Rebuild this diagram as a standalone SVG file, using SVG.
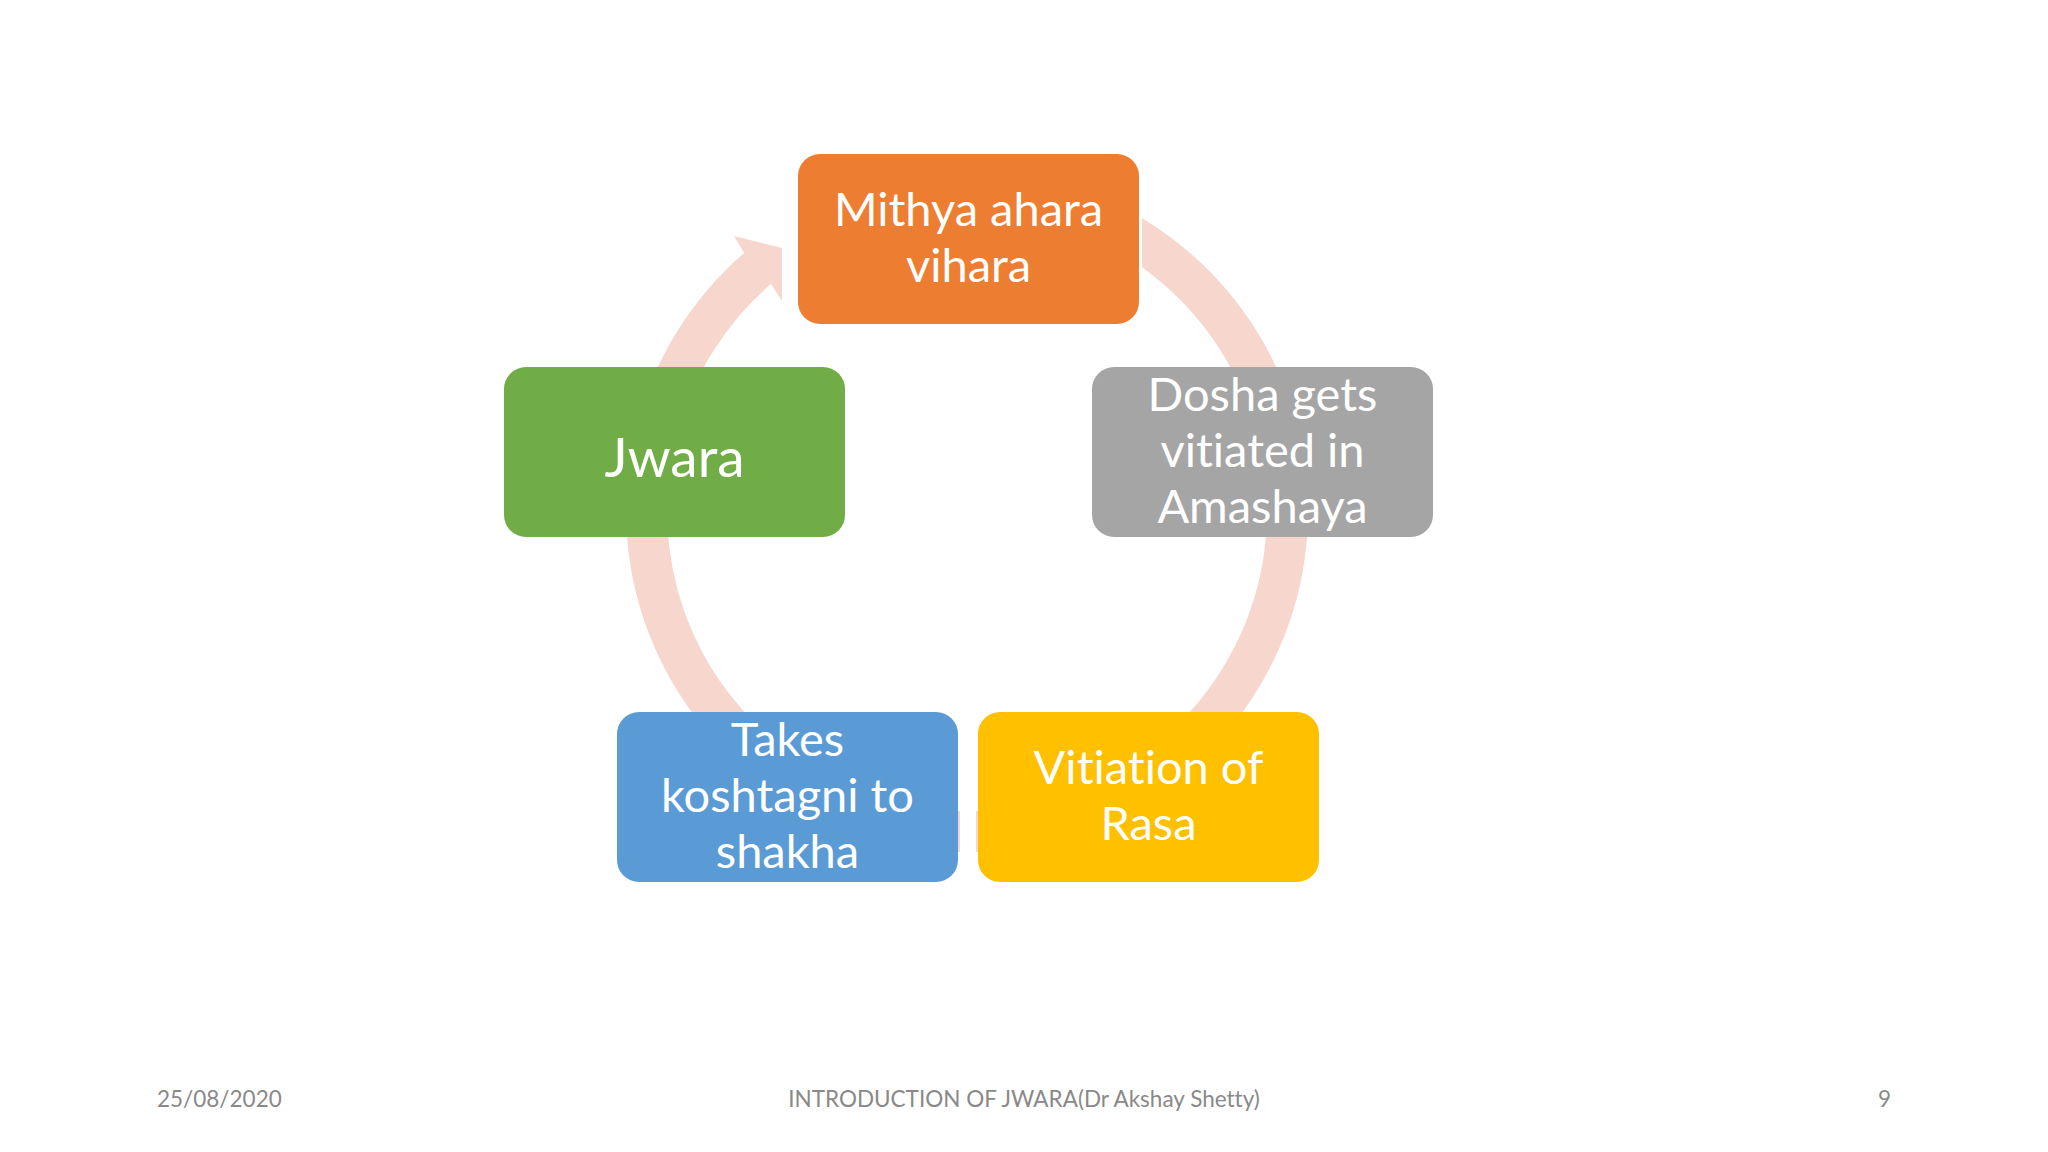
<svg xmlns="http://www.w3.org/2000/svg" width="2048" height="1152" viewBox="0 0 2048 1152">
  <style>
    .box { stroke: none; }
    .lbl { font-family: Lato, "Open Sans", "Liberation Sans", sans-serif; fill: #FFFFFF; font-size: 47px; text-anchor: middle; font-variant-ligatures: none; font-feature-settings: "liga" 0, "dlig" 0; }
    .big { font-size: 55px; }
    .foot { font-family: Lato, "Open Sans", "Liberation Sans", sans-serif; fill: #898989; font-size: 22.5px; font-variant-ligatures: none; }
    .ring { fill: #F7D6CD; stroke: none; }
  </style>
  <rect x="0" y="0" width="2048" height="1152" fill="#FFFFFF"/>
  <g id="connectors">
    <path class="ring" d="M 1142,218.3 A 341 341 0 0 1 976,851.9 L 976,810.9 A 300 300 0 0 0 1142,267.3 Z"/>
    <path class="ring" d="M 960,851.9 A 341 341 0 0 1 744.2,252.9 L 734,236 L 782,248 L 782,301 L 771,283.9 A 300 300 0 0 0 960,810.9 Z"/>
  </g>
  <g id="node-mithya">
    <rect class="box" x="798" y="154" width="341" height="170" rx="22" fill="#ED7D31"/>
    <text class="lbl" x="968.5" y="226">Mithya ahara</text>
    <text class="lbl" x="968.5" y="282">vihara</text>
  </g>
  <g id="node-dosha">
    <rect class="box" x="1092" y="367" width="341" height="170" rx="22" fill="#A5A5A5"/>
    <text class="lbl" x="1262.5" y="411">Dosha gets</text>
    <text class="lbl" x="1262.5" y="467">vitiated in</text>
    <text class="lbl" x="1262.5" y="523">Amashaya</text>
  </g>
  <g id="node-rasa">
    <rect class="box" x="978" y="712" width="341" height="170" rx="22" fill="#FFC000"/>
    <text class="lbl" x="1148.5" y="784">Vitiation of</text>
    <text class="lbl" x="1148.5" y="840">Rasa</text>
  </g>
  <g id="node-takes">
    <rect class="box" x="617" y="712" width="341" height="170" rx="22" fill="#5B9BD5"/>
    <text class="lbl" x="787.5" y="756">Takes</text>
    <text class="lbl" x="787.5" y="812">koshtagni to</text>
    <text class="lbl" x="787.5" y="868">shakha</text>
  </g>
  <g id="node-jwara">
    <rect class="box" x="504" y="367" width="341" height="170" rx="22" fill="#70AD47"/>
    <text class="lbl big" x="674.5" y="477">Jwara</text>
  </g>
  <g id="footer">
    <text class="foot" x="157" y="1107">25/08/2020</text>
    <text class="foot" x="1024" y="1107" text-anchor="middle">INTRODUCTION OF JWARA(Dr Akshay Shetty)</text>
    <text class="foot" x="1891" y="1107" text-anchor="end">9</text>
  </g>
</svg>
